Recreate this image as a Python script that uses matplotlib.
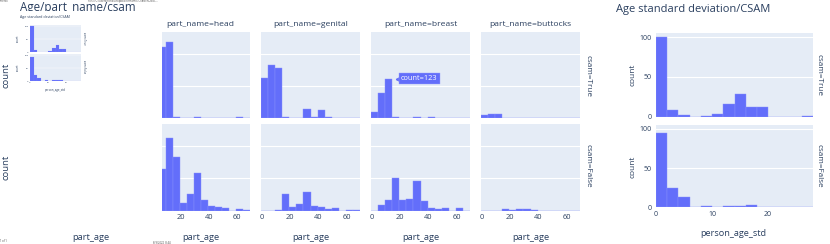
"""
Age/part_name/csam histograms + age std deviation/CSAM panel,
redrawn from a printed plotly page.
"""

import numpy as np
import matplotlib
matplotlib.use("Agg")
import matplotlib.pyplot as plt
from matplotlib.transforms import Bbox, TransformedBbox, offset_copy

plt.rcParams["font.family"] = ["Open Sans", "DejaVu Sans"]

# ── Data ──────────────────────────────────────────────────────────────────────
PARTS = ["head", "genital", "breast", "buttocks"]
AGE_EDGES = np.arange(-0.5, 70, 5)          # 5-year bins, -0.5 .. 69.5

head_true      = [0, 220, 237, 3, 0, 0, 3, 0, 0, 0, 0, 0, 3, 0]
head_false     = [0, 129, 224, 164, 23, 50, 117, 33, 16, 12, 8, 0, 5, 3]
genital_true   = [124, 165, 157, 3, 0, 0, 29, 3, 26, 3, 0, 0, 0, 0]
genital_false  = [0, 0, 3, 50, 11, 20, 58, 16, 12, 4, 7, 0, 2, 2]
breast_true    = [20, 79, 123, 3, 0, 0, 3, 0, 3, 0, 0, 0, 0, 0]
breast_false   = [0, 18, 33, 100, 33, 37, 91, 31, 8, 4, 7, 0, 7, 0]
buttocks_true  = [9, 12, 12, 0, 0, 0, 0, 0, 0, 0, 0, 0, 0, 0]
buttocks_false = [0, 0, 0, 5, 2, 4, 4, 2, 0, 0, 0, 0, 0, 0]

STD_EDGES = np.arange(0, 29, 2)             # 2-unit bins, 0 .. 28
std_true  = [100, 9, 2, 0, 1, 4, 16, 29, 12, 12, 0, 0, 0, 1]
std_false = [95, 25, 13, 1, 2, 1, 2, 2, 3, 0, 0, 0, 0, 0]

AGE_TICKS   = [0, 20, 40, 60]
AGE_GRID    = [100, 200]
STD_TICKS   = [0, 10, 20]
COUNT_TICKS = [0, 50, 100]
HOVER_TEXT  = "count=123"

counts_true  = [head_true, genital_true, breast_true, buttocks_true]
counts_false = [head_false, genital_false, breast_false, buttocks_false]

# ── Style ─────────────────────────────────────────────────────────────────────
BAR  = "#636efa"
EDGE = "#8990fb"
BG   = "#e5ecf6"
INK  = "#2a3f5f"
W, H = 830, 244

fig = plt.figure(figsize=(W / 100, H / 100), dpi=100)


def px_axes(x0, y0, x1, y1):
    return fig.add_axes([x0 / W, 1 - y1 / H, (x1 - x0) / W, (y1 - y0) / H])


def px_text(x, y, s, **kw):
    kw.setdefault("color", INK)
    kw.setdefault("ha", "center")
    kw.setdefault("va", "center")
    return fig.text(x / W, 1 - y / H, s, **kw)


def style(ax, grid_lw=0.8):
    ax.set_facecolor(BG)
    for sp in ax.spines.values():
        sp.set_visible(False)
    ax.tick_params(length=0, colors=INK)
    ax.yaxis.grid(True, color="white", lw=grid_lw)
    ax.set_axisbelow(True)


def hist(ax, edges, counts, lw=0.3):
    ax.bar(edges[:-1], counts, width=np.diff(edges), align="edge",
           color=BAR, edgecolor=EDGE, linewidth=lw)


# ── Faceted part_age histograms ───────────────────────────────────────────────
col_x   = [(162, 250), (261, 360), (371, 470), (481, 580)]
col_mid = [200.5, 310.5, 420.5, 530.5]
row_y   = [(32, 118.3), (124, 210.7)]

for c, part in enumerate(PARTS):
    for r, data in enumerate([counts_true[c], counts_false[c]]):
        ax = px_axes(col_x[c][0], row_y[r][0], col_x[c][1], row_y[r][1])
        style(ax)
        hist(ax, AGE_EDGES, data)
        ax.set_xticks(AGE_TICKS)
        ax.set_yticks(AGE_GRID)
        ax.set_yticklabels([])
        # head column is partly hidden on the left in the print
        ax.set_xlim(6.8 if c == 0 else -0.5, 69.5)
        ax.set_ylim(0, 267)
        if r == 1:
            ax.tick_params(axis="x", labelsize=5.3, pad=2.2)
        else:
            ax.tick_params(axis="x", labelbottom=False)

        if part == "breast" and r == 0:
            ax.annotate(HOVER_TEXT, xy=(AGE_EDGES[3], data[2]),
                        xytext=(6.2, 0), textcoords="offset points",
                        ha="left", va="center", color="white", fontsize=5.3,
                        bbox=dict(boxstyle="square,pad=0.3", fc=BAR,
                                  ec="#9aa0fb", lw=0.3))
            tr = offset_copy(ax.transData, fig=fig, x=4.2, y=0, units="points")
            ax.plot([AGE_EDGES[3]], [data[2]], marker="<", ms=3.2, color=BAR,
                    mec=BAR, transform=tr, clip_on=False)

    px_text(col_mid[c], 24.5, f"part_name={part}", fontsize=6.1)
    px_text(col_mid[c], 237.5, "part_age", fontsize=6.7)

px_text(91, 237.5, "part_age", fontsize=6.7)
px_text(6, 75.5, "count", fontsize=6.8, rotation=90)
px_text(6, 167.5, "count", fontsize=6.8, rotation=90)
px_text(587.5, 76, "csam=True", fontsize=5.9, rotation=270)
px_text(587.5, 166, "csam=False", fontsize=5.9, rotation=270)

# ── Age standard deviation / CSAM ─────────────────────────────────────────────
def std_panel(box_top, box_bot, fs_tick, pad, grid_lw, lw):
    for r, (data, box) in enumerate(zip([std_true, std_false], [box_top, box_bot])):
        ax = px_axes(*box)
        style(ax, grid_lw)
        hist(ax, STD_EDGES, data, lw)
        ax.set_xticks(STD_TICKS)
        ax.set_yticks(COUNT_TICKS)
        ax.set_xlim(STD_EDGES[0], STD_EDGES[-1])
        ax.set_ylim(0, 105)
        ax.tick_params(axis="y", labelsize=fs_tick, pad=pad)
        if r == 1:
            ax.tick_params(axis="x", labelsize=fs_tick, pad=pad)
        else:
            ax.tick_params(axis="x", labelbottom=False)


std_panel((656, 33.3, 813, 116.7), (656, 125, 813, 207.3), 5.0, 2.9, 0.8, 0.3)
px_text(693, 9.5, "Age standard deviation/CSAM", fontsize=8)
px_text(633, 75, "count", fontsize=6, rotation=90)
px_text(633, 166.5, "count", fontsize=6, rotation=90)
px_text(819, 75.5, "csam=True", fontsize=5.9, rotation=270)
px_text(819, 166, "csam=False", fontsize=5.9, rotation=270)
px_text(733, 233.3, "person_age_std", fontsize=6.6)

# ── Page thumbnail in the corner ──────────────────────────────────────────────
std_panel((30, 25, 81, 52.3), (30, 54, 81, 81), 1.7, 1.0, 0.3, 0.1)
px_text(45, 16.7, "Age standard deviation/CSAM", fontsize=2.6)
px_text(18, 38.5, "count", fontsize=2, rotation=90)
px_text(18, 67.5, "count", fontsize=2, rotation=90)
px_text(83.5, 38.5, "csam=True", fontsize=1.9, rotation=270)
px_text(83.5, 67.5, "csam=False", fontsize=1.9, rotation=270)
px_text(55, 90, "person_age_std", fontsize=2.1)

# ── Page title (clipped by the print) and print headers ───────────────────────
title = px_text(20, 11, "Age/part_name/csam", fontsize=8.4, ha="left",
                va="baseline")
title.set_clip_box(TransformedBbox(Bbox([[0, 1 - 11.3 / H], [1, 1]]),
                                   fig.transFigure))
title.set_clip_on(True)

px_text(0, 1.2, "Firefox", fontsize=1.9, ha="left", color="#444444")
px_text(88, 1.0, "file:///C:/Users/sofia/Dropbox/Semantic/CSAM/NCMEC...",
        fontsize=1.9, ha="left", color="#444444")
px_text(0, 241, "1 of 1", fontsize=1.9, ha="left", color="#444444")
px_text(153, 241.8, "8/9/2022, 8:44", fontsize=1.9, ha="left", color="#444444")

fig.savefig("out.png", dpi=100)
